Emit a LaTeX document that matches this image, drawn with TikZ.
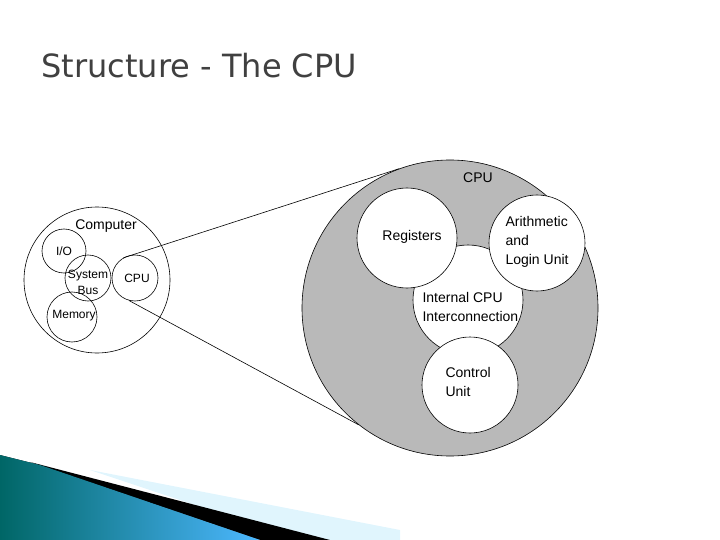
\documentclass[tikz,border=0pt]{standalone}
\usepackage{fontspec}
\setmainfont{Liberation Sans}
\newfontfamily\titlefont{DejaVu Sans}
\begin{document}
\begin{tikzpicture}[x=1pt,y=-1pt,
  circ/.style={draw=black,line width=0.6pt,circle,inner sep=0pt},
  lbl/.style={font=\fontsize{12}{15}\selectfont,align=left},
  big/.style={font=\fontsize{14}{19}\selectfont,align=left}]
\useasboundingbox (0,0) rectangle (720,540);
% bottom decoration
\fill[cyan!12] (90,470) -- (400,530) -- (400,540) -- (300,540) -- cycle;
\fill[black] (30,462) -- (330,540) -- (260,540) -- cycle;
\fill[left color=teal!80!black, right color=cyan!60!blue!70] (0,455) -- (40,465) -- (260,540) -- (0,540) -- cycle;
% title
\node[anchor=west,font=\titlefont\fontsize{32}{36}\selectfont,text=black!75] (title) at (38,66) {Structure - The CPU};
% big CPU
\node[circ,fill=gray!55,minimum width=296pt] (bigcpu) at (450,308) {};
\node[big] (cpulbl) at (478,178) {CPU};
\node[circ,fill=white,minimum width=110pt] (icc) at (468,300) {};
\node[circ,fill=white,minimum width=100pt] (reg) at (407,238) {};
\node[circ,fill=white,minimum width=96pt] (alu) at (537,243) {};
\node[circ,fill=white,minimum width=96pt] (cu) at (470,385) {};
\node[big] at (412,237) {Registers};
\node[big,anchor=west] at (502,242) {Arithmetic\\and\\Login Unit};
\node[big,anchor=west] at (419,307) {Internal CPU\\Interconnection};
\node[big,anchor=west] at (442,382) {Control\\Unit};
% computer
\node[circ,minimum width=146pt] (comp) at (97,280) {};
\node[circ,minimum width=44pt] (io) at (64,251) {};
\node[circ,minimum width=46pt] (bus) at (88,278) {};
\node[circ,minimum width=46pt] (scpu) at (135,278) {};
\node[circ,minimum width=50pt] (mem) at (72,317) {};
\node[big] at (106,226) {Computer};
\node[lbl] at (64,251) {I/O};
\node[lbl,align=center,font=\fontsize{12}{16}\selectfont] at (88,282) {System\\Bus};
\node[lbl] at (137,278) {CPU};
\node[lbl] at (74,316) {Memory};
% connectors
\draw[line width=0.6pt] (scpu.120) -- (bigcpu.110);
\draw[line width=0.6pt] (scpu.-105) -- (bigcpu.-128);
\end{tikzpicture}
\end{document}
